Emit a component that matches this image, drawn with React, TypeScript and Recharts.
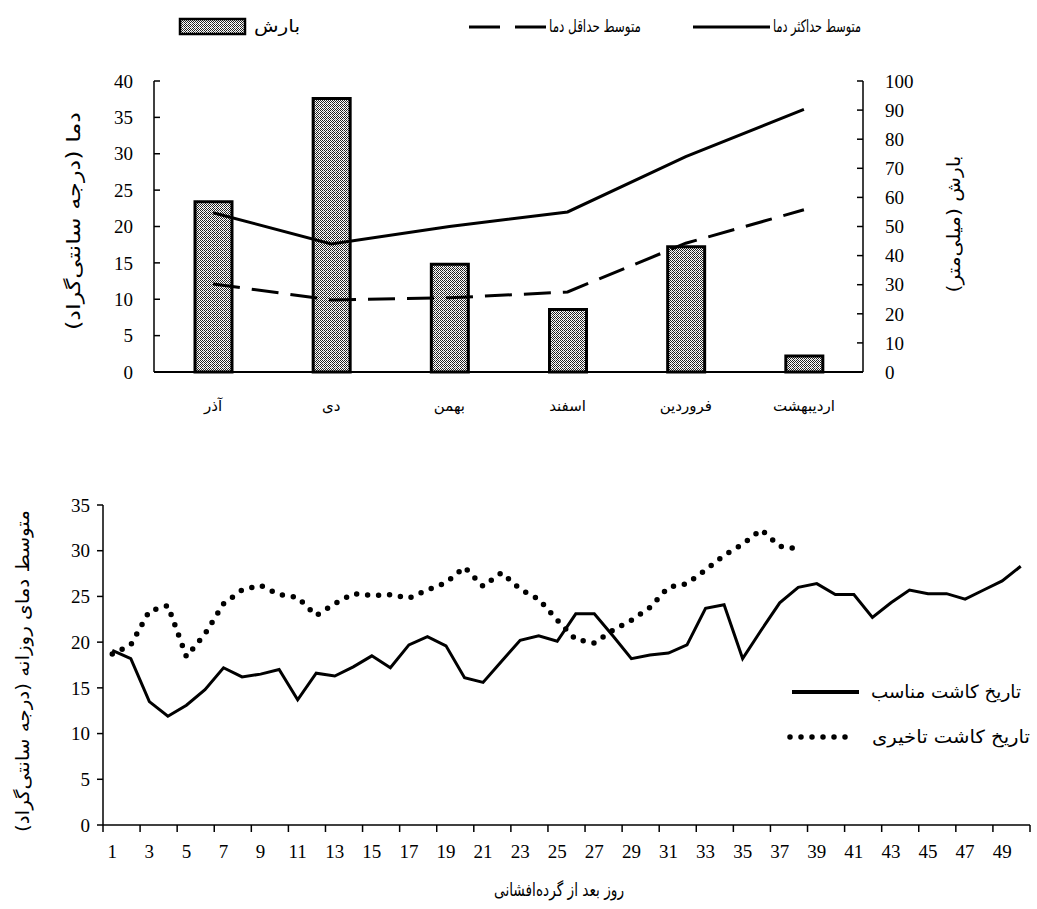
import React from 'react';
import { ComposedChart, LineChart, Bar, Line, XAxis, YAxis } from 'recharts';

const SERIF = "'Liberation Serif', 'DejaVu Serif', serif";
const ARABIC = "'DejaVu Sans', 'Liberation Serif', sans-serif";

// monthly chart
const months = ['آذر', 'دی', 'بهمن', 'اسفند', 'فروردین', 'اردیبهشت'];
const rainfall = [58.5, 94, 37, 21.5, 43, 5.5];
const maxTemp = [21.9, 17.6, 20.0, 22.0, 29.6, 36.1];
const minTemp = [12.1, 9.9, 10.2, 11.0, 17.7, 22.3];
const tempTicks = [0, 5, 10, 15, 20, 25, 30, 35, 40];
const rainTicks = [0, 10, 20, 30, 40, 50, 60, 70, 80, 90, 100];

// daily chart
const days = [
  1, 2, 3, 4, 5, 6, 7, 8, 9, 10, 11, 12, 13, 14, 15, 16, 17, 18, 19, 20, 21, 22, 23, 24, 25,
  26, 27, 28, 29, 30, 31, 32, 33, 34, 35, 36, 37, 38, 39, 40, 41, 42, 43, 44, 45, 46, 47, 48, 49, 50,
];
const goodSowing = [
  19.1, 18.2, 13.5, 11.9, 13.1, 14.8, 17.2, 16.2, 16.5, 17.0, 13.7, 16.6, 16.3, 17.3, 18.5, 17.2, 19.7,
  20.6, 19.6, 16.1, 15.6, 17.9, 20.2, 20.7, 20.1, 23.1, 23.1, 20.7, 18.2, 18.6, 18.8, 19.7, 23.7, 24.1,
  18.2, 21.3, 24.3, 26.0, 26.4, 25.2, 25.2, 22.7, 24.3, 25.7, 25.3, 25.3, 24.7, 25.7, 26.7, 28.3,
];
const lateSowing = [
  18.7, 19.7, 23.4, 24.0, 18.4, 20.9, 24.2, 25.7, 26.2, 25.2, 24.9, 22.9, 24.2, 25.3, 25.1, 25.2, 24.8,
  25.7, 26.5, 28.2, 26.1, 27.6, 25.8, 24.7, 22.4, 20.3, 19.9, 21.3, 22.4, 23.8, 26.0, 26.4, 27.9, 29.5,
  30.7, 32.3, 30.5, 30.2,
];
const dailyTempTicks = [0, 5, 10, 15, 20, 25, 30, 35];
const dayTicks = [
  0.5, 2.5, 4.5, 6.5, 8.5, 10.5, 12.5, 14.5, 16.5, 18.5, 20.5, 22.5, 24.5, 26.5, 28.5, 30.5, 32.5,
  34.5, 36.5, 38.5, 40.5, 42.5, 44.5, 46.5, 48.5, 50.5,
];

const monthlyData = months.map((m, i) => ({ month: m, rain: rainfall[i], tmax: maxTemp[i], tmin: minTemp[i] }));
const dailyData = days.map((d, i) => ({
  day: d,
  good: goodSowing[i],
  late: i < lateSowing.length ? lateSowing[i] : null,
}));

const W = 1037;
const BOTTOM_AXIS_W = 103;
const BOTTOM_RIGHT = 7;
const HALF_BAND = (W - BOTTOM_AXIS_W - BOTTOM_RIGHT) / days.length / 2;

const DayTick = ({ x, y, payload }: any) => {
  const label = payload.value + 0.5;
  if (label > days.length) return <g />;
  return (
    <text x={x + HALF_BAND} y={y} dy="0.75em" textAnchor="middle" fontFamily={SERIF} fontSize={19} fill="#000">
      {label}
    </text>
  );
};

// rotated axis title, stretched to the length it has in the original
const vLabel = (text: string, x: number, y: number, len: number, size: number) => () =>
  (
    <text transform={`translate(${x},${y}) rotate(-90)`} textAnchor="middle" dominantBaseline="central"
      fontFamily={ARABIC} fontSize={size} fill="#000" textLength={len} lengthAdjust="spacingAndGlyphs">
      {text}
    </text>
  );

const ArText = ({ x, y, len, size, children }: any) => (
  <text x={x} y={y} textAnchor="end" dominantBaseline="central" fontFamily={ARABIC} fontSize={size} fill="#000"
    textLength={len} lengthAdjust="spacingAndGlyphs">
    {children}
  </text>
);

const numTick = { fontSize: 19, fill: '#000', fontFamily: SERIF };
const axisLine = { stroke: '#000', strokeWidth: 1.5 };

const Checker = ({ id }: { id: string }) => (
  <pattern id={id} width="4" height="4" patternUnits="userSpaceOnUse">
    <rect width="4" height="4" fill="#fff" />
    <rect x="0" y="0" width="1" height="1" fill="#222" />
    <rect x="2" y="0" width="1" height="1" fill="#222" />
    <rect x="1" y="1" width="1" height="1" fill="#222" />
    <rect x="3" y="1" width="1" height="1" fill="#222" />
    <rect x="0" y="2" width="1" height="1" fill="#222" />
    <rect x="2" y="2" width="1" height="1" fill="#222" />
    <rect x="1" y="3" width="1" height="1" fill="#222" />
    <rect x="3" y="3" width="1" height="1" fill="#888" />
  </pattern>
);

const TopLegend = () => (
  <svg width={W} height={50} style={{ position: 'absolute', left: 0, top: 0 }}>
    <defs>
      <Checker id="legendDots" />
    </defs>
    <rect x={180} y={19} width={65} height={15} fill="url(#legendDots)" stroke="#000" strokeWidth={2.5} />
    <ArText x={300} y={26} len={46} size={17}>بارش</ArText>
    <line x1={469} y1={27} x2={546} y2={27} stroke="#000" strokeWidth={3} strokeDasharray="31 15" />
    <ArText x={641} y={26} len={92} size={17}>متوسط حداقل دما</ArText>
    <line x1={693} y1={27} x2={770} y2={27} stroke="#000" strokeWidth={3} />
    <ArText x={861} y={26} len={88} size={17}>متوسط حداکثر دما</ArText>
  </svg>
);

const BottomLegend = () => (
  <svg width={W} height={100} style={{ position: 'absolute', left: 0, top: 660 }}>
    <line x1={792} y1={32} x2={859} y2={32} stroke="#000" strokeWidth={4} />
    <ArText x={1021} y={31} len={150} size={18}>تاریخ کاشت مناسب</ArText>
    <line x1={790} y1={77} x2={856} y2={77} stroke="#000" strokeWidth={5.5} strokeDasharray="0 11" strokeLinecap="round" />
    <ArText x={1030} y={76} len={158} size={18}>تاریخ کاشت تاخیری</ArText>
  </svg>
);

export default function App() {
  return (
    <div style={{ position: 'absolute', left: 0, top: 0, width: W, height: 909, background: '#fff' }}>
      <div style={{ position: 'absolute', left: 0, top: 0 }}>
        <ComposedChart width={W} height={440} data={monthlyData} margin={{ top: 81, right: 0, left: 0, bottom: 0 }}>
          <defs>
            <Checker id="barDots" />
          </defs>
          <XAxis dataKey="month" height={68} tickLine={false} axisLine={{ stroke: '#000', strokeWidth: 2 }}
            tick={{ fontSize: 15, fill: '#000', fontFamily: ARABIC }} tickMargin={22} interval={0} />
          <YAxis yAxisId="left" domain={[0, 40]} ticks={tempTicks} width={154} tickSize={-6} tickMargin={27}
            axisLine={axisLine} tickLine={axisLine} tick={numTick}
            label={{ content: vLabel('دما (درجه سانتی‌گراد)', 73, 221, 218, 19) }} />
          <YAxis yAxisId="right" orientation="right" domain={[0, 100]} ticks={rainTicks} width={174} tickSize={-6}
            tickMargin={28} axisLine={axisLine} tickLine={axisLine} tick={numTick}
            label={{ content: vLabel('بارش (میلی‌متر)', 953, 224, 137, 18) }} />
          <Bar yAxisId="right" dataKey="rain" barSize={37} fill="url(#barDots)" stroke="#000" strokeWidth={3}
            isAnimationActive={false} />
          <Line yAxisId="left" dataKey="tmax" type="linear" stroke="#000" strokeWidth={3} dot={false}
            isAnimationActive={false} />
          <Line yAxisId="left" dataKey="tmin" type="linear" stroke="#000" strokeWidth={3} strokeDasharray="27 12"
            dot={false} isAnimationActive={false} />
        </ComposedChart>
      </div>
      <TopLegend />
      <div style={{ position: 'absolute', left: 0, top: 440 }}>
        <LineChart width={W} height={469} data={dailyData} margin={{ top: 65, right: BOTTOM_RIGHT, left: 0, bottom: 0 }}>
          <XAxis dataKey="day" type="number" domain={[0.5, 50.5]} ticks={dayTicks} interval={0} height={84}
            tickSize={7} tickMargin={12} axisLine={axisLine} tickLine={axisLine} tick={<DayTick />}
            label={{ content: () => (
              <text x={559} y={449} textAnchor="middle" dominantBaseline="central" fontFamily={ARABIC} fontSize={18}
                fill="#000" textLength={130} lengthAdjust="spacingAndGlyphs">
                روز بعد از گرده‌افشانی
              </text>
            ) }} />
          <YAxis domain={[0, 35]} ticks={dailyTempTicks} width={BOTTOM_AXIS_W} tickSize={6} tickMargin={7}
            axisLine={axisLine} tickLine={axisLine} tick={numTick}
            label={{ content: vLabel('متوسط دمای روزانه (درجه سانتی‌گراد)', 22, 231, 322, 18) }} />
          <Line dataKey="good" type="linear" stroke="#000" strokeWidth={3} dot={false} isAnimationActive={false} />
          <Line dataKey="late" type="linear" stroke="#000" strokeWidth={5.5} strokeDasharray="0 11"
            strokeLinecap="round" dot={false} isAnimationActive={false} />
        </LineChart>
      </div>
      <BottomLegend />
    </div>
  );
}
